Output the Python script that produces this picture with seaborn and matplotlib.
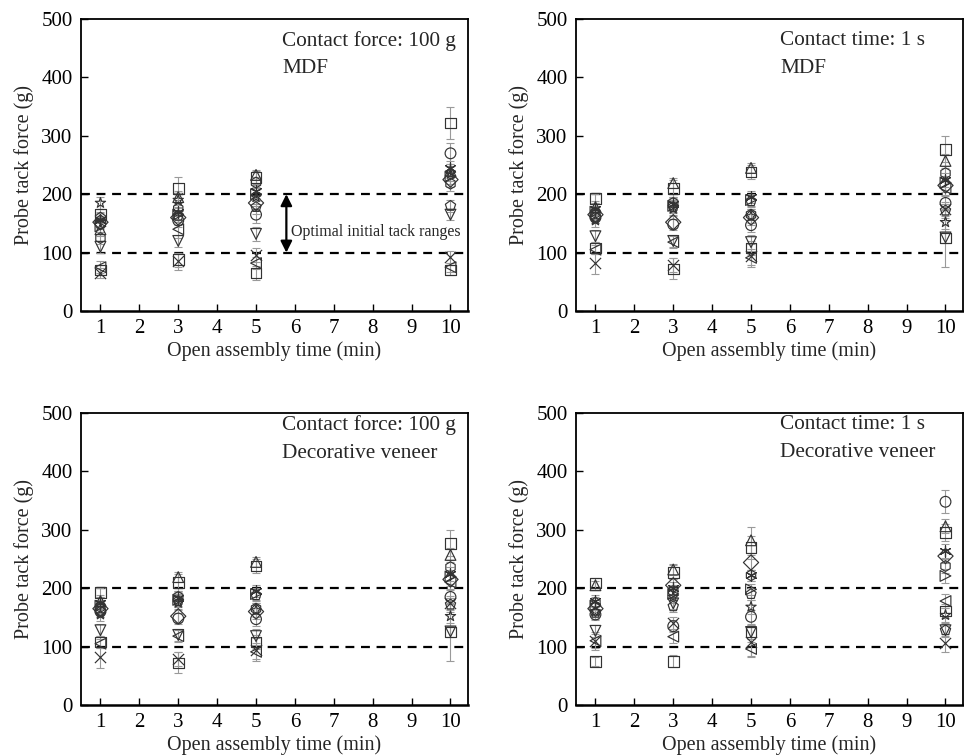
import numpy as np
import pandas as pd
import matplotlib
matplotlib.use("Agg")
import matplotlib.pyplot as plt
import seaborn as sns

# ---------------- data ----------------
times = [1, 3, 5, 10]
series = ["S1", "S2", "S3", "S4", "S5", "S6", "S7", "S8", "S9", "S10", "S11", "S12", "S13"]
marker_list = ["s", "s", "o", "^", "v", "D", "<", ">", "*", "h", "x", (6, 2, 0), "p"]

# top-left: MDF, contact force 100 g
tl_vals = [[165, 210, 228, 322], [70, 88, 65, 70], [150, 155, 165, 270], [140, 195, 233, 240],
           [110, 120, 132, 165], [152, 160, 185, 225], [75, 140, 82, 75], [145, 165, 200, 230],
           [185, 190, 195, 235], [125, 175, 220, 218], [65, 85, 96, 92], [155, 170, 205, 245],
           [160, 163, 178, 180]]
tl_err = [[10, 20, 12, 27], [8, 12, 12, 8], [10, 12, 15, 18], [12, 10, 8, 12],
          [10, 10, 12, 10], [10, 12, 12, 12], [10, 15, 10, 8], [10, 12, 12, 12],
          [10, 12, 12, 12], [10, 12, 10, 12], [8, 15, 12, 10], [12, 12, 12, 12],
          [10, 10, 12, 10]]

# top-right: MDF, contact time 1 s
tr_vals = [[193, 210, 238, 277], [108, 72, 108, 125], [160, 148, 147, 185], [178, 219, 245, 257],
           [128, 120, 118, 126], [165, 152, 160, 215], [105, 118, 91, 210], [170, 180, 190, 220],
           [155, 175, 162, 152], [168, 185, 165, 236], [82, 79, 95, 175], [175, 183, 195, 225],
           [160, 178, 188, 172]]
tr_err = [[8, 15, 12, 22], [10, 18, 12, 50], [10, 10, 12, 12], [10, 8, 8, 12],
          [10, 10, 12, 10], [10, 10, 12, 12], [8, 10, 12, 12], [10, 10, 10, 12],
          [12, 10, 12, 12], [10, 10, 10, 12], [18, 12, 20, 12], [10, 10, 10, 12],
          [10, 10, 10, 12]]

# bottom-left: decorative veneer, contact force 100 g
bl_vals = [[193, 210, 238, 277], [108, 72, 108, 125], [160, 148, 147, 185], [178, 219, 245, 257],
           [128, 120, 118, 126], [165, 152, 160, 215], [105, 118, 91, 210], [170, 180, 190, 220],
           [155, 175, 162, 152], [168, 185, 165, 236], [82, 79, 95, 175], [175, 183, 195, 225],
           [160, 178, 188, 172]]
bl_err = [[8, 15, 12, 22], [10, 18, 12, 50], [10, 10, 12, 12], [10, 8, 8, 12],
          [10, 10, 12, 10], [10, 10, 12, 12], [8, 10, 12, 12], [10, 10, 10, 12],
          [12, 10, 12, 12], [10, 10, 10, 12], [18, 12, 20, 12], [10, 10, 10, 12],
          [10, 10, 10, 12]]

# bottom-right: decorative veneer, contact time 1 s
br_vals = [[209, 227, 270, 295], [75, 75, 125, 161], [155, 135, 151, 348], [205, 232, 282, 306],
           [127, 174, 125, 128], [165, 205, 244, 255], [110, 117, 96, 178], [170, 190, 198, 221],
           [160, 185, 168, 154], [175, 195, 222, 238], [110, 140, 108, 106], [178, 200, 222, 264],
           [158, 169, 190, 128]]
br_err = [[8, 12, 20, 15], [8, 10, 12, 12], [10, 10, 12, 20], [8, 10, 22, 12],
          [10, 10, 12, 10], [10, 10, 12, 12], [12, 10, 12, 12], [10, 10, 10, 12],
          [10, 10, 12, 12], [10, 10, 10, 12], [15, 10, 25, 15], [10, 10, 10, 12],
          [10, 10, 10, 12]]

panel_texts = [("Contact force: 100 g", "MDF"),
               ("Contact time: 1 s", "MDF"),
               ("Contact force: 100 g", "Decorative veneer"),
               ("Contact time: 1 s", "Decorative veneer")]
x_label = "Open assembly time (min)"
y_label = "Probe tack force (g)"
x_ticks = [1, 2, 3, 4, 5, 6, 7, 8, 9, 10]
y_ticks = [0, 100, 200, 300, 400, 500]
ref_lines = [100, 200]
arrow_text = "Optimal initial tack ranges"

# ---------------- style ----------------
sns.set_theme(style="ticks")
plt.rcParams["font.family"] = ["Liberation Serif", "DejaVu Serif"]

W, H = 964, 756
fig = plt.figure(figsize=(W / 100, H / 100), dpi=100)

def pos(l, r, t, b):
    return [l / W, 1 - b / H, (r - l) / W, (b - t) / H]

positions = [pos(81, 468, 19, 311), pos(576, 963, 19, 311),
             pos(81, 468, 413, 705), pos(576, 963, 413, 705)]
text_pos = [(0.52, 0.925, 0.83), (0.528, 0.925, 0.83),
            (0.52, 0.958, 0.862), (0.528, 0.962, 0.866)]

datasets = [(tl_vals, tl_err), (tr_vals, tr_err), (bl_vals, bl_err), (br_vals, br_err)]

edge = "#333333"
for i, ((vals, errs), p) in enumerate(zip(datasets, positions)):
    ax = fig.add_axes(p)
    rows = []
    for s, v, e in zip(series, vals, errs):
        for t, vv, ee in zip(times, v, e):
            rows.append({"series": s, "time": t, "force": vv, "err": ee})
    df = pd.DataFrame(rows)

    ax.errorbar(df["time"], df["force"], yerr=df["err"], fmt="none",
                ecolor="#9a9a9a", elinewidth=0.8, capsize=3, capthick=0.8, zorder=2)
    for s, m in zip(series, marker_list):
        sub = df[df["series"] == s]
        mk = matplotlib.markers.MarkerStyle(m)
        if mk.is_filled():
            sns.scatterplot(data=sub, x="time", y="force", marker=m, s=60,
                            facecolor="none", edgecolor=edge, linewidth=0.85,
                            ax=ax, zorder=3, legend=False)
        else:
            sns.scatterplot(data=sub, x="time", y="force", marker=m, s=65,
                            color=edge, linewidth=0.85, ax=ax, zorder=3, legend=False)

    for yv in ref_lines:
        ax.axhline(yv, color="black", lw=1.6, ls=(0, (4, 3)), zorder=1)

    ax.set_xlim(0.5, 10.45)
    ax.set_ylim(0, 500)
    ax.set_xticks(x_ticks)
    ax.set_yticks(y_ticks)
    ax.tick_params(direction="in", length=5, width=1, labelsize=15, pad=6, colors="black")
    for sp in ax.spines.values():
        sp.set_visible(True)
        sp.set_linewidth(1.3)
        sp.set_color("black")
    ax.spines["bottom"].set_linewidth(1.8)
    ax.set_xlabel(x_label, fontsize=14.5, labelpad=2)
    ax.set_ylabel(y_label, fontsize=14.5, labelpad=5)
    ax.set_facecolor("white")

    tx, ty1, ty2 = text_pos[i]
    ax.text(tx, ty1, panel_texts[i][0], transform=ax.transAxes, fontsize=15.3, va="center", ha="left")
    ax.text(tx, ty2, panel_texts[i][1], transform=ax.transAxes, fontsize=15.3, va="center", ha="left")

    if i == 0:
        ax.annotate("", xy=(5.78, 100), xytext=(5.78, 200),
                    arrowprops=dict(arrowstyle="<|-|>", color="black", lw=1.6,
                                    mutation_scale=17, shrinkA=0, shrinkB=0))
        ax.text(5.9, 135, arrow_text, fontsize=11.5, va="center", ha="left")

fig.savefig("out.png", dpi=100, facecolor="white")
